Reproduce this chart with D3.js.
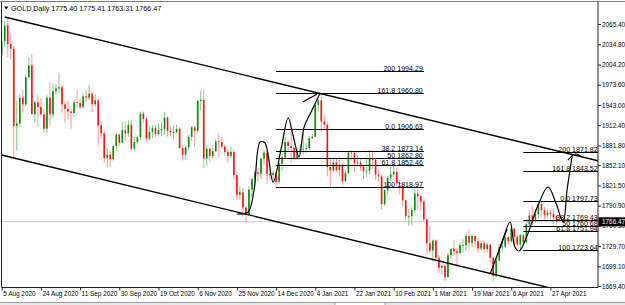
<!DOCTYPE html>
<html><head><meta charset="utf-8">
<script src="https://cdn.jsdelivr.net/npm/d3@7/dist/d3.min.js"></script>
<style>html,body{margin:0;padding:0;background:#fff;overflow:hidden}</style>
</head><body>
<script>
// ---------- DATA ----------
const symbolTitle = "GOLD,Daily";
const titleValues = ["1775.40", "1775.41", "1763.31", "1766.47"];

const opens = [
2019,2039,2063,2035,2028,1911,1915,1954,1944,1985,2003,1929,1947,1940,1929,1907,1954,1929,1964,
1968,1970,1944,1937,1933,1931,1947,1946,1940,1956,1954,1960,1944,1950,1912,1900,1863,1868,1861,1881,1898,
1886,1905,1900,1913,1877,1887,1894,1930,1922,1892,1902,1908,1899,1905,1907,1924,1904,1902,1902,1907,1878,1868,
1879,1895,1909,1904,1949,1951,1862,1877,1866,1873,1888,1887,1880,1872,1866,1872,1837,1807,1811,1788,
1777,1815,1831,1841,1839,1862,1871,1839,1837,1840,1827,1854,1864,1887,1881,1878,1863,1874,1876,1877,1878,1893,
1895,1943,1950,1918,1913,1849,1844,1856,1845,1851,1828,1840,1871,1870,1855,1856,1850,1843,1844,
1863,1860,1838,1835,1793,1814,1833,1838,1842,1825,1820,1799,1775,1775,1784,1809,1805,1797,1770,
1734,1723,1738,1712,1697,1700,1683,1716,1726,1722,1719,1731,1731,1745,1735,1745,1737,1726,1734,1725,1732,1712,1685,
1708,1728,1729,1743,1737,1756,1744,1732,1746,1736,1763,1776,1770,1778,1793,1784,1777,1780,1778,1775.40];
const highs = [
2055,2069,2075,2050,2032,1949,1960,1966,1989,2015,2020,1950,1958,1953,1939,1958,1976,1975,1975,
1992,1973,1949,1950,1936,1951,1966,1953,1961,1966,1973,1963,1959,1952,1918,1905,1877,1873,1882,1900,1900,
1917,1918,1920,1921,1895,1897,1933,1933,1925,1911,1913,1913,1916,1917,1932,1926,1911,1912,1913,1910,1882,1882,
1898,1911,1911,1951,1965,1966,1882,1879,1882,1892,1900,1895,1883,1876,1880,1876,1839,1820,1818,1790,
1820,1833,1844,1848,1864,1875,1875,1849,1844,1843,1856,1869,1895,1890,1906,1881,1878,1884,1900,1886,1896,1900,
1944,1952,1959,1927,1917,1864,1863,1862,1865,1856,1845,1872,1875,1872,1867,1862,1852,1865,1875,
1875,1862,1845,1838,1816,1836,1849,1855,1848,1829,1825,1800,1786,1789,1815,1816,1806,1802,1772,
1760,1740,1739,1716,1703,1703,1719,1724,1739,1727,1735,1740,1749,1755,1748,1746,1741,1738,1737,1735,1733,1714,1715,
1733,1741,1746,1745,1759,1758,1746,1748,1748,1765,1784,1790,1786,1797,1797,1789,1786,1784,1785,1775.41];
const lows = [
2016,2031,2015,2012,1863,1874,1910,1931,1941,1983,1930,1916,1911,1927,1901,1900,1912,1923,1958,
1961,1931,1916,1921,1907,1925,1939,1937,1938,1947,1950,1932,1940,1882,1892,1855,1848,1849,1859,1874,1881,
1885,1889,1895,1874,1873,1883,1890,1916,1887,1889,1893,1894,1897,1896,1898,1895,1895,1891,1900,1877,1859,1860,
1875,1889,1880,1900,1935,1848,1851,1858,1862,1872,1864,1877,1867,1856,1862,1830,1800,1800,1774,1764,
1776,1803,1825,1827,1831,1853,1824,1830,1826,1820,1823,1843,1862,1874,1855,1859,1861,1869,1868,1870,1875,1891,
1895,1933,1902,1907,1835,1817,1840,1842,1835,1822,1826,1838,1859,1841,1851,1843,1831,1834,1838,
1847,1830,1827,1785,1791,1808,1828,1835,1821,1808,1790,1769,1760,1761,1780,1784,1783,1767,1717,
1718,1707,1707,1689,1687,1677,1682,1710,1715,1699,1718,1720,1723,1725,1728,1728,1719,1723,1719,1721,1705,1677,1682,
1706,1722,1726,1732,1735,1731,1728,1725,1733,1734,1759,1762,1765,1772,1774,1770,1773,1771,1763,1763.31];
const closes = [
2039,2063,2035,2028,1911,1915,1954,1944,1985,2003,1929,1947,1940,1929,1907,1954,1929,1964,1968,
1970,1944,1937,1933,1931,1947,1946,1940,1956,1954,1960,1944,1950,1912,1900,1863,1868,1861,1881,1898,1886,
1905,1900,1913,1877,1887,1894,1930,1922,1892,1902,1908,1899,1905,1907,1924,1904,1902,1902,1907,1878,1868,1879,
1895,1909,1904,1949,1951,1862,1877,1866,1873,1888,1887,1880,1872,1866,1872,1837,1807,1811,1788,1777,
1815,1831,1841,1839,1862,1871,1839,1837,1840,1827,1854,1864,1887,1881,1878,1863,1874,1876,1877,1878,1893,1895,
1943,1950,1918,1913,1849,1844,1856,1845,1851,1828,1840,1871,1870,1855,1856,1850,1843,1844,1863,
1860,1838,1835,1793,1814,1833,1838,1842,1825,1824,1799,1775,1775,1784,1809,1805,1797,1770,1734,
1723,1738,1712,1697,1700,1683,1716,1726,1722,1719,1731,1731,1745,1735,1745,1737,1726,1734,1725,1732,1712,1685,1708,
1728,1729,1743,1737,1756,1744,1732,1746,1736,1763,1776,1770,1778,1793,1784,1777,1780,1778,1773,1766.47];

const dateLabels = ["5 Aug 2020","24 Aug 2020","11 Sep 2020","30 Sep 2020","19 Oct 2020","6 Nov 2020",
  "25 Nov 2020","14 Dec 2020","4 Jan 2021","22 Jan 2021","10 Feb 2021","1 Mar 2021","19 Mar 2021",
  "6 Apr 2021","27 Apr 2021"];
const dateLabelBars = [0,13,26,39,52,65,78,91,104,117,130,143,156,169,182];

const priceLabels = [2065.40,2034.80,2004.20,1973.60,1943.00,1912.40,1881.80,1852.10,1821.50,
  1790.90,1760.30,1729.70,1699.10,1669.40];
const lastPrice = 1766.47;

// channel: two anchor points of the upper line (bar, price) and channel width in price
const channelUpper = [[1, 2076.0], [106, 1960.0]];
const channelWidth = 209.7;

// Fibonacci objects
const fibNames = ["200","161.8","0.0","38.2","50","61.8","100"];
const fib1Prices = [1994.29,1960.80,1906.63,1873.14,1862.80,1852.46,1818.97];
const fib1Bars = [91, 140];
const fib2Prices = [1871.82,1843.52,1797.73,1769.43,1760.68,1751.94,1723.64];
const fib2Bars = [173, 198];

// hand drawn projection paths (bar, price)
const pathA = [[78.0,1778.2],[81.7,1781.2],[83.7,1814.5],[85.7,1887.1],[87.3,1885.5],[90.0,1826.6],
  [92.6,1875.0],[95.0,1923.3],[96.6,1897.6],[98.6,1864.4],[100.3,1909.7],[102.6,1932.4],[105.6,1961.1]];
const hookA = [[99.9,1947.5],[101.9,1952.8],[104.6,1959.6]];
const pathB = [[162.0,1687.5],[167.6,1755.6]];
const pathC = [[165.3,1726.8],[166.6,1745.0],[168.6,1766.1],[170.2,1728.3],[171.6,1722.3],[174.2,1745.0],
  [177.9,1791.8],[181.2,1819.0],[183.8,1794.9],[186.2,1766.1],[187.5,1814.5],[189.2,1865.9]];
const hookC = [[187.8,1859.8],[190.2,1868.9],[192.5,1864.4]];

// ---------- DRAW ----------
const W = 625, H = 305;
const plot = {left: 1.5, right: 598, top: 2, bottom: 287.5};
const FONT = "Liberation Sans, Arial, sans-serif";
const FS = 6.4;       // axis labels
const FS_FIB = 7.1;   // object labels
const FS_TITLE = 7.2;

const x = d3.scaleLinear().domain([0, 184]).range([1.7, 556.5]);
const y = d3.scaleLinear().domain([1669.4, 2065.4]).range([286, 24]);

const svg = d3.select("body").append("svg").attr("width", W).attr("height", H)
  .style("font-family", FONT).style("font-size", FS + "px");

svg.append("defs").append("clipPath").attr("id", "clip").append("rect")
  .attr("x", plot.left).attr("y", plot.top).attr("width", plot.right - plot.left).attr("height", plot.bottom - plot.top);

// bottom gray strip (tabs)
svg.append("rect").attr("x", 0).attr("y", 302).attr("width", W).attr("height", 3).attr("fill", "#e8e8e8");
svg.append("line").attr("x1", 0).attr("x2", W).attr("y1", 302.5).attr("y2", 302.5).attr("stroke", "#9a9a9a");
svg.append("rect").attr("x", 335).attr("y", 302.5).attr("width", 50).attr("height", 3).attr("fill", "#fff").attr("stroke", "#9a9a9a").attr("stroke-width", 0.8);

const g = svg.append("g").attr("clip-path", "url(#clip)");

// bid line
g.append("line").attr("x1", plot.left).attr("x2", plot.right)
  .attr("y1", y(lastPrice)).attr("y2", y(lastPrice)).attr("stroke", "#c8c8c8").attr("stroke-width", 1);

// candles
const idx = d3.range(closes.length);
const bull = i => closes[i] >= opens[i];
g.append("g").selectAll("line").data(idx).join("line")
  .attr("x1", i => x(i)).attr("x2", i => x(i))
  .attr("y1", i => y(highs[i])).attr("y2", i => y(lows[i]))
  .attr("stroke", i => bull(i) ? "#86c486" : "#f79a9a").attr("stroke-width", 1);
g.append("g").selectAll("rect").data(idx).join("rect")
  .attr("x", i => x(i) - 0.8).attr("width", 1.6)
  .attr("y", i => y(Math.max(opens[i], closes[i])))
  .attr("height", i => Math.max(0.8, Math.abs(y(opens[i]) - y(closes[i]))))
  .attr("fill", i => bull(i) ? "#0a8a0a" : "#ff1010");

// channel
const slope = (channelUpper[1][1] - channelUpper[0][1]) / (channelUpper[1][0] - channelUpper[0][0]);
const upAt = b => channelUpper[0][1] + slope * (b - channelUpper[0][0]);
const endBar = x.invert(plot.right);
const line = d3.line().x(d => x(d[0])).y(d => y(d[1]));
g.append("path").attr("d", line([[channelUpper[0][0], upAt(channelUpper[0][0])], [endBar, upAt(endBar)]]))
  .attr("fill", "none").attr("stroke", "#000").attr("stroke-width", 1.4);
const lowStart = x.invert(plot.left);
g.append("path").attr("d", line([[lowStart, upAt(lowStart) - channelWidth], [endBar, upAt(endBar) - channelWidth]]))
  .attr("fill", "none").attr("stroke", "#000").attr("stroke-width", 1.4);

// fibonacci
function drawFib(prices, bars) {
  const fg = g.append("g");
  prices.forEach((p, k) => {
    const yy = Math.round(y(p)) + 0.5;
    fg.append("line").attr("x1", x(bars[0])).attr("x2", x(bars[1])).attr("y1", yy).attr("y2", yy)
      .attr("stroke", "#000").attr("stroke-width", 1.1);
    fg.append("text").attr("x", x(bars[1]) - 1).attr("y", yy - 1).attr("text-anchor", "end")
      .style("font-size", FS_FIB + "px").attr("fill", "#000").text(fibNames[k] + " " + p.toFixed(2));
  });
}
drawFib(fib1Prices, fib1Bars);
drawFib(fib2Prices, fib2Bars);

// hand drawn paths
const curve = d3.line().x(d => x(d[0])).y(d => y(d[1])).curve(d3.curveCatmullRom.alpha(0.5));
[pathA, hookA, pathC, hookC].forEach(p => g.append("path").attr("d", curve(p))
  .attr("fill", "none").attr("stroke", "#000").attr("stroke-width", 1.2));
g.append("path").attr("d", line(pathB)).attr("fill", "none").attr("stroke", "#000").attr("stroke-width", 1.2);

// frame
svg.append("line").attr("x1", 0).attr("x2", W).attr("y1", 1.5).attr("y2", 1.5).attr("stroke", "#7a7a7a");
svg.append("path").attr("d", `M${plot.left},${plot.top}V${plot.bottom}H${plot.right}V${plot.top}`)
  .attr("fill", "none").attr("stroke", "#222").attr("stroke-width", 1);

// x axis
const xAxis = d3.axisBottom(x).tickValues(dateLabelBars)
  .tickFormat((d, k) => dateLabels[k]).tickSize(3).tickSizeOuter(0);
const xg = svg.append("g").attr("transform", `translate(0,${plot.bottom})`).call(xAxis);
xg.select(".domain").remove();
xg.selectAll("line").attr("stroke", "#222");
xg.selectAll("text").attr("text-anchor", "start").attr("x", 1).attr("y", 4).attr("fill", "#000")
  .style("font-size", FS + "px").style("font-family", FONT);

// y axis
const yAxis = d3.axisRight(y).tickValues(priceLabels).tickFormat(d3.format(".2f")).tickSize(3).tickPadding(1);
const yg = svg.append("g").attr("transform", `translate(${plot.right},0)`).call(yAxis);
yg.select(".domain").remove();
yg.selectAll("line").attr("stroke", "#222");
yg.selectAll("text").attr("fill", "#000").style("font-size", FS + "px").style("font-family", FONT);

// last price tag
const ly = y(lastPrice);
svg.append("rect").attr("x", plot.right + 0.5).attr("y", ly - 4.5).attr("width", W - plot.right).attr("height", 9).attr("fill", "#000");
svg.append("text").attr("x", plot.right + 4).attr("y", ly).attr("dy", "0.34em").attr("fill", "#fff")
  .text(lastPrice.toFixed(2));

// title
svg.append("path").attr("d", "M4,6.5H8.5L6.25,9.5Z").attr("fill", "#000");
svg.append("text").attr("x", 11).attr("y", 10.5).attr("fill", "#000").style("font-size", FS_TITLE + "px")
  .text(symbolTitle + "  " + titleValues.join(" "));
</script>
</body></html>
